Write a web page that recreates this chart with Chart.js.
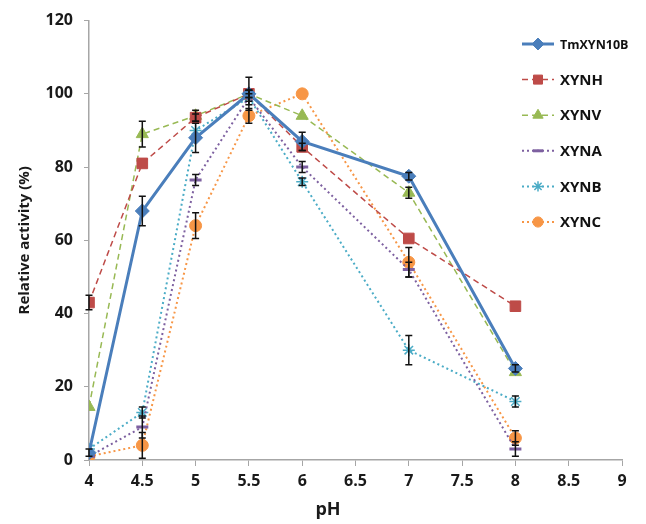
<!DOCTYPE html>
<html lang="en">
<head>
<meta charset="UTF-8">
<title>Relative activity vs pH</title>
<script src="https://cdn.jsdelivr.net/npm/chart.js@4.4.7/dist/chart.umd.min.js"></script>
<style>
  html, body { margin: 0; padding: 0; background: #fff; }
  #wrap { width: 646px; height: 524px; }
</style>
</head>
<body>
<div id="wrap"><canvas id="chart"></canvas></div>
<script>
// pH values
const phValues = [4, 4.5, 5, 5.5, 6, 7, 8];
const xTicks = [4, 4.5, 5, 5.5, 6, 6.5, 7, 7.5, 8, 8.5, 9];
const yTicks = [0, 20, 40, 60, 80, 100, 120];

// relative activity (%) per enzyme
const tmxyn10b = [2, 68, 88, 100, 87, 77.5, 25];
const xynh     = [43, 81, 93.5, 100, 85.5, 60.5, 42];
const xynv     = [14.5, 89, 94, 100, 94, 73, 24];
const xyna     = [1, 9, 76.5, 99, 80, 52, 3];
const xynb     = [3, 13, 90, 99, 76, 30, 16];
const xync     = [1, 4, 64, 94, 100, 54, 6];

// error bars (+/-)
const errTm = [1, 4, 4, 4.5, 2.5, 1, 1];
const errH  = [2, 0, 1, 1, 1, 0, 0];
const errV  = [0, 3.5, 1.5, 1, 0, 1.5, 0];
const errA  = [0, 3, 1.5, 2, 1.5, 2, 2];
const errB  = [0, 1.5, 0, 1, 1, 4, 1.5];
const errC  = [0, 3.5, 3.5, 2, 0, 4, 2];

const fontFam = "'Open Sans', 'Noto Sans', sans-serif";

function pts(vals) {
    return vals.map((v, i) => ({ x: phValues[i], y: v }));
}

function series(label, vals, errs, color, style, radius, dash, width, legendSize) {
    return {
        label: label,
        data: pts(vals),
        errors: errs,
        legendSize: legendSize,
        borderColor: color,
        backgroundColor: color,
        borderWidth: width,
        borderDash: dash,
        pointStyle: style,
        pointRadius: radius,
        pointBorderWidth: style === 'line' ? 3 : (style === 'star' ? 1.5 : 1),
        pointBackgroundColor: color,
        pointBorderColor: color,
        tension: 0
    };
}

const datasets = [
    series('TmXYN10B', tmxyn10b, errTm, '#4A7EBB', 'rectRot', 7, [], 3, 12.5),
    series('XYNH', xynh, errH, '#BE4B48', 'rect', 7.5, [6, 4], 1.5, 15),
    series('XYNV', xynv, errV, '#98B954', 'triangle', 7, [6, 4], 1.5, 15),
    series('XYNA', xyna, errA, '#7D60A0', 'line', 6, [2, 3], 2, 15),
    series('XYNB', xynb, errB, '#4BACC6', 'star', 6, [2, 3], 2, 15),
    series('XYNC', xync, errC, '#F79646', 'circle', 6, [2, 3], 2, 15)
];

// black error bars with caps
const errorBars = {
    id: 'errorBars',
    afterDatasetsDraw(chart) {
        const ctx = chart.ctx;
        const ys = chart.scales.y;
        ctx.save();
        ctx.strokeStyle = '#111';
        ctx.lineWidth = 1.5;
        ctx.setLineDash([]);
        chart.data.datasets.forEach((ds, di) => {
            const meta = chart.getDatasetMeta(di);
            ds.data.forEach((p, i) => {
                const e = ds.errors[i];
                if (!e) return;
                const x = meta.data[i].x;
                const top = ys.getPixelForValue(p.y + e);
                const bot = ys.getPixelForValue(p.y - e);
                ctx.beginPath();
                ctx.moveTo(x, top); ctx.lineTo(x, bot);
                ctx.moveTo(x - 3.5, top); ctx.lineTo(x + 3.5, top);
                ctx.moveTo(x - 3.5, bot); ctx.lineTo(x + 3.5, bot);
                ctx.stroke();
            });
        });
        ctx.restore();
    }
};

// legend inside the plot (line + marker), and the pH title
const lineLegend = {
    id: 'lineLegend',
    afterDraw(chart) {
        const ctx = chart.ctx;
        const x0 = 522, x1 = 554, tx = 560;
        let y = 44;
        ctx.save();
        chart.data.datasets.forEach(ds => {
            ctx.strokeStyle = ds.borderColor;
            ctx.lineWidth = ds.borderWidth;
            ctx.setLineDash(ds.borderDash);
            ctx.beginPath();
            ctx.moveTo(x0, y); ctx.lineTo(x1, y);
            ctx.stroke();
            ctx.setLineDash([]);
            ctx.fillStyle = ds.pointBackgroundColor;
            ctx.strokeStyle = ds.pointBorderColor;
            ctx.lineWidth = ds.pointBorderWidth;
            Chart.helpers.drawPoint(ctx, {
                pointStyle: ds.pointStyle,
                radius: ds.pointRadius * 0.85,
                rotation: 0,
                borderWidth: ds.pointBorderWidth
            }, (x0 + x1) / 2, y);
            ctx.fillStyle = '#111';
            ctx.font = 'bold ' + ds.legendSize + 'px ' + fontFam;
            ctx.textBaseline = 'middle';
            ctx.textAlign = 'left';
            ctx.fillText(ds.label, tx, y + 1);
            y += 35.6;
        });
        // x axis title sits a bit left of the plot centre
        ctx.font = 'bold 18px ' + fontFam;
        ctx.textAlign = 'center';
        ctx.fillStyle = '#1a1a1a';
        ctx.fillText('pH', 328, 510);
        ctx.restore();
    }
};

new Chart(document.getElementById('chart'), {
    type: 'line',
    data: { datasets: datasets },
    plugins: [errorBars, lineLegend],
    options: {
        responsive: true,
        maintainAspectRatio: false,
        animation: false,
        layout: { padding: { left: 0, right: 24, top: 15, bottom: 0 } },
        plugins: {
            legend: { display: false },
            tooltip: { enabled: false }
        },
        scales: {
            x: {
                type: 'linear',
                min: 4,
                max: 9,
                afterBuildTicks: axis => { axis.ticks = xTicks.map(v => ({ value: v })); },
                afterFit: axis => { axis.height = 64; },
                grid: { drawOnChartArea: false, drawTicks: true, tickLength: 6, color: '#a6a6a6' },
                border: { display: true, color: '#a6a6a6', width: 1.5 },
                ticks: {
                    color: '#1a1a1a',
                    padding: 6,
                    maxRotation: 0,
                    font: { family: fontFam, size: 16, weight: 'bold' },
                    callback: v => String(v)
                }
            },
            y: {
                min: 0,
                max: 120,
                afterBuildTicks: axis => { axis.ticks = yTicks.map(v => ({ value: v })); },
                afterFit: axis => { axis.width = 89; },
                grid: { drawOnChartArea: false, drawTicks: true, tickLength: 5, color: '#a6a6a6' },
                border: { display: true, color: '#a6a6a6', width: 1.5 },
                ticks: {
                    color: '#1a1a1a',
                    padding: 11,
                    font: { family: fontFam, size: 16, weight: 'bold' }
                },
                title: {
                    display: true,
                    text: 'Relative activity (%)',
                    color: '#1a1a1a',
                    padding: { top: 16, bottom: 0 },
                    font: { family: fontFam, size: 15, weight: 'bold' }
                }
            }
        }
    }
});
</script>
</body>
</html>
